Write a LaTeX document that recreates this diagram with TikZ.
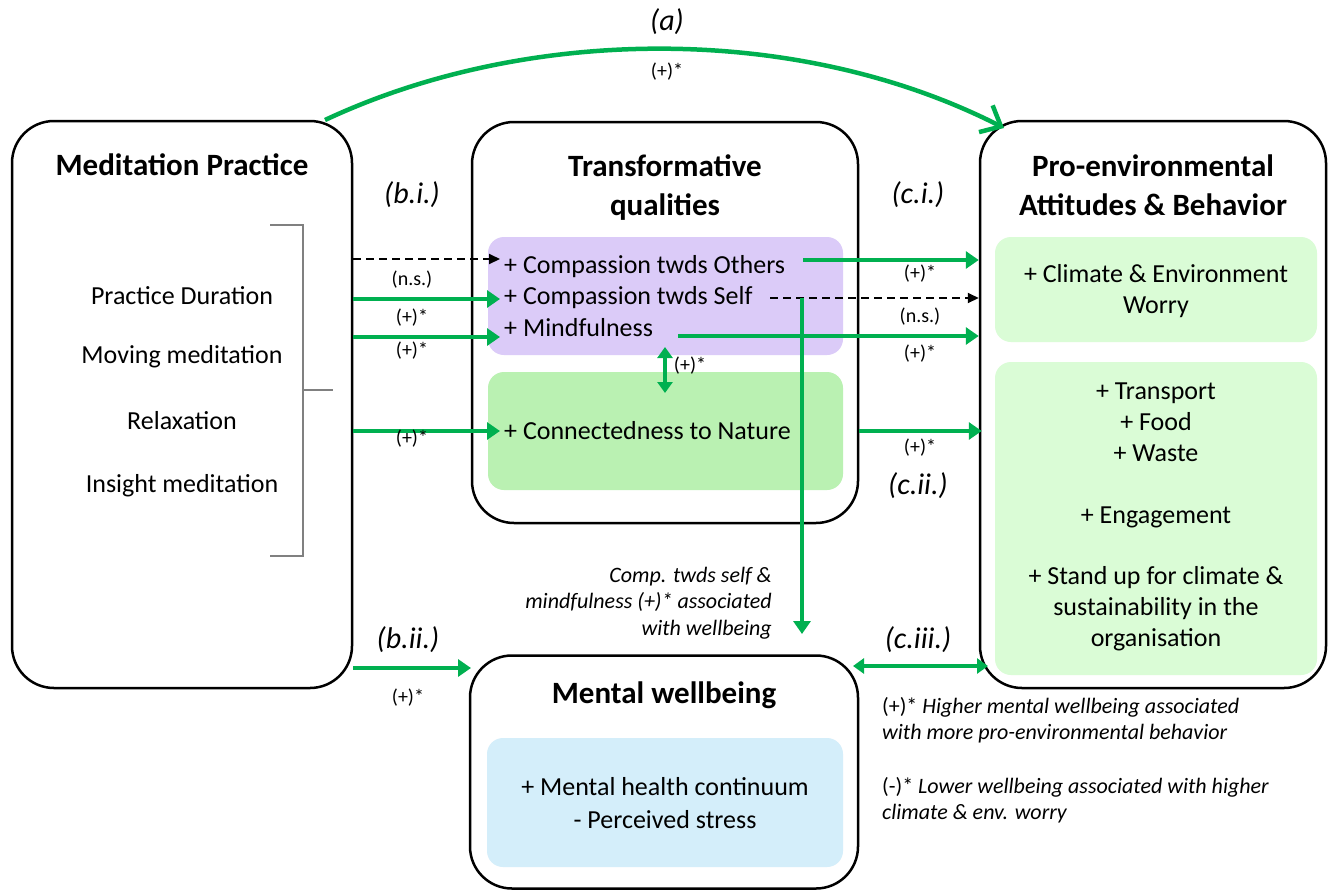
\documentclass[tikz,border=0pt]{standalone}
\usepackage{fontspec}
\setmainfont{Carlito}
\usetikzlibrary{arrows.meta,calc}
\definecolor{ggreen}{RGB}{0,176,80}
\definecolor{lpurple}{RGB}{219,203,248}
\definecolor{mgreen}{RGB}{186,241,178}
\definecolor{pgreen}{RGB}{218,252,214}
\definecolor{lblue}{RGB}{212,238,250}
\definecolor{brgray}{RGB}{128,128,128}
\tikzset{
  bigbox/.style={draw=black, line width=2.5pt, rounded corners=42pt, inner sep=0pt},
  inbox/.style={rounded corners=16pt, inner sep=0pt},
  ttl/.style={font=\fontsize{31}{39}\selectfont\bfseries, align=center, inner sep=0pt},
  body/.style={font=\fontsize{26}{31}\selectfont, align=center, inner sep=0pt},
  lbl/.style={font=\fontsize{20}{24}\selectfont, inner sep=0pt},
  plbl/.style={font=\fontsize{30}{36}\selectfont\itshape, inner sep=0pt},
  note/.style={font=\fontsize{22}{26.5}\selectfont, inner sep=0pt},
  garrow/.style={draw=ggreen, line width=4pt, -{Triangle[length=13pt,width=17pt]}},
  gdouble/.style={draw=ggreen, line width=4pt, {Triangle[length=11pt,width=15pt]}-{Triangle[length=11pt,width=15pt]}},
  darrow/.style={draw=black, line width=2pt, dash pattern=on 8pt off 5pt, -{Triangle[length=11pt,width=10pt]}},
  curvearrow/.style={draw=ggreen, line width=4.5pt, -{Straight Barb[length=17pt,width=30pt,line width=4.5pt]}},
  bracketline/.style={draw=brgray, line width=1.3pt},
}
\begin{document}
\begin{tikzpicture}[x=1pt,y=-1pt]
\useasboundingbox[fill=white] (0,0) rectangle (1333,892);

% ---- main boxes
\node[bigbox, minimum width=340pt, minimum height=567pt] (mp) at (182,404.5) {};
\node[bigbox, minimum width=386pt, minimum height=401pt] (tq) at (665,322.5) {};
\node[bigbox, minimum width=346pt, minimum height=567pt] (pe) at (1153,404.5) {};
\node[bigbox, minimum width=388pt, minimum height=233pt] (mw) at (664,772) {};

% ---- inner coloured boxes
\node[inbox, fill=lpurple, minimum width=355pt, minimum height=118pt] (pu) at (665.5,296) {};
\node[inbox, fill=mgreen, minimum width=355pt, minimum height=118pt] (gr) at (665.5,431) {};
\node[inbox, fill=pgreen, minimum width=322pt, minimum height=105pt] (wo) at (1156,289.5) {};
\node[inbox, fill=pgreen, minimum width=322pt, minimum height=313pt] (be) at (1156,518.5) {};
\node[inbox, fill=lblue, minimum width=356pt, minimum height=129pt] (bl) at (665,802.5) {};

% ---- titles
\node[ttl] (mpt) at (182,165) {Meditation Practice};
\node[ttl] (tqt) at (665,188) {Transformative\\qualities};
\node[ttl] (pet) at (1153,185) {Pro-environmental\\Attitudes \& Behavior};
\node[ttl] (mwt) at (664,695) {Mental wellbeing};

% ---- left list and bracket
\node[body] (pd) at (182,296) {Practice Duration};
\node[body] (mm) at (182,357) {Moving meditation};
\node[body] (rx) at (182,421) {Relaxation};
\node[body] (im) at (182,486) {Insight meditation};
\coordinate (brT) at (303,225);
\coordinate (brB) at (303,556);
\coordinate (brM) at (303,390);
\draw[bracketline] ($(brT)+(-33,0)$) -- (brT) -- (brB) -- ($(brB)+(-33,0)$);
\draw[bracketline] (brM) -- ($(brM)+(30,0)$);

% ---- transformative qualities texts
\node[body, anchor=west] (co) at (504,267) {+ Compassion twds Others};
\node[body, anchor=west] (cs) at (504,298) {+ Compassion twds Self};
\node[body, anchor=west] (mf) at (504,328) {+ Mindfulness};
\node[body, anchor=west] (cn) at (504,431) {+ Connectedness to Nature};

% ---- right box texts
\node[body] (wt) at (1156,291) {+ Climate \& Environment\\Worry};
\node[body, font=\fontsize{26}{30.8}\selectfont] (bt) at (1156,517)
  {+ Transport\\+ Food\\+ Waste\\[30.8pt]+ Engagement\\[30.8pt]+ Stand up for climate \&\\sustainability in the\\organisation};

% ---- wellbeing text
\node[body, font=\fontsize{26}{33}\selectfont] (mh) at (665,803) {+ Mental health continuum\\- Perceived stress};

% ---- path labels
\node[plbl] (la) at (667,22) {(a)};
\node[lbl] (la2) at (667,72) {(+)*};
\node[plbl] (lbi) at (412,195) {(b.i.)};
\node[plbl] (lci) at (918,195) {(c.i.)};
\node[plbl] (lcii) at (918,486) {(c.ii.)};
\node[plbl] (lbii) at (408,640) {(b.ii.)};
\node[plbl] (lciii) at (918,640) {(c.iii.)};

% ---- coordinates for arrow ends
\coordinate (aS) at (325,120);
\coordinate (aE) at (1004,128);
\coordinate (coIn) at (500,259);
\coordinate (csIn) at (500,299);
\coordinate (mfIn) at (500,337);
\coordinate (cnIn) at (500,431);
\coordinate (coOut) at (803,260);
\coordinate (csOut) at (770,298);
\coordinate (mfOut) at (678,336);
\coordinate (cnOut) at (860,431);
\coordinate (csV) at (802,298);
\coordinate (wbIn) at (802,634);
\coordinate (dTop) at (665,347);
\coordinate (dBot) at (665,393);
\coordinate (biiIn) at (471,668);
\coordinate (ciiiL) at (853,666);
\coordinate (ciiiR) at (988,666);

% ---- (a)
\draw[curvearrow] (aS) .. controls (530,24) and (800,24) .. (aE);

% ---- (b.i.)
\draw[darrow] (mp.east |- coIn) -- (coIn);
\draw[garrow] (mp.east |- csIn) -- (csIn);
\draw[garrow] (mp.east |- mfIn) -- (mfIn);
\draw[garrow] (mp.east |- cnIn) -- (cnIn);
\node[lbl] (l1) at (412,280) {(n.s.)};
\node[lbl] (l2) at (412,318) {(+)*};
\node[lbl] (l3) at (412,351) {(+)*};
\node[lbl] (l4) at (412,439) {(+)*};

% ---- (c.i.)
\draw[garrow] (coOut) -- (pe.west |- coOut);
\draw[darrow] (csOut) -- (pe.west |- csOut);
\draw[garrow] (mfOut) -- (pe.west |- mfOut);
\draw[garrow] (tq.east |- cnOut) -- ($(pe.west |- cnOut)+(3,0)$);
\node[lbl] (r1) at (920,274) {(+)*};
\node[lbl] (r2) at (920,317) {(n.s.)};
\node[lbl] (r3) at (920,354) {(+)*};
\node[lbl] (r4) at (920,448) {(+)*};

% ---- internal link
\draw[gdouble] (dTop) -- (dBot);
\node[lbl] (lm) at (690,366) {(+)*};

% ---- to wellbeing
\draw[garrow] (csV) -- (wbIn);
\node[note, font=\fontsize{22}{26.5}\selectfont\itshape, align=right, anchor=east] (cmp) at (772,603)
  {Comp. twds self \&\\mindfulness (+)* associated\\with wellbeing};

% ---- (b.ii.)
\draw[garrow] (mp.east |- biiIn) -- (biiIn);
\node[lbl] (lb2) at (408,698) {(+)*};

% ---- (c.iii.)
\draw[gdouble] (ciiiL) -- (ciiiR);
\node[note, align=left, anchor=west] (n1) at (882,720)
  {(+)* \textit{Higher mental wellbeing associated}\\\textit{with more pro-environmental behavior}};
\node[note, align=left, anchor=west] (n2) at (882,800)
  {(-)* \textit{Lower wellbeing associated with higher}\\\textit{climate \& env. worry}};
\end{tikzpicture}
\end{document}
